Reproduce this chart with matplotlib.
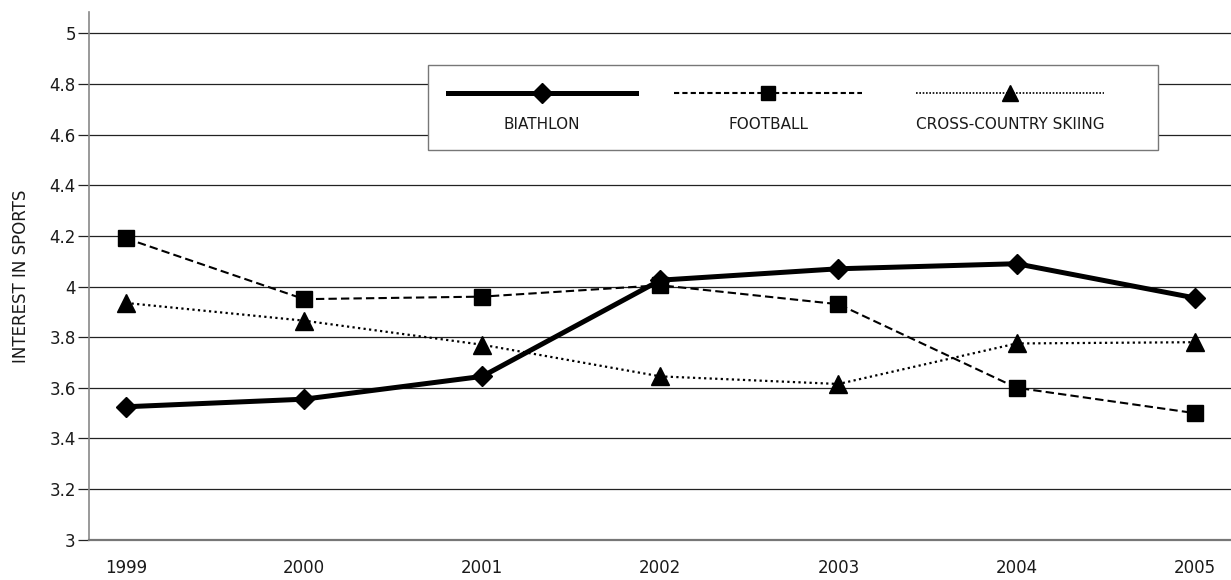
import numpy as np
import matplotlib
matplotlib.use("Agg")
from matplotlib import pyplot as plt
from matplotlib.lines import Line2D
from matplotlib.patches import Rectangle

# data
years = ["1999", "2000", "2001", "2002", "2003", "2004", "2005"]
biathlon = [3.525, 3.555, 3.645, 4.025, 4.07, 4.09, 3.955]
football = [4.19, 3.95, 3.96, 4.005, 3.93, 3.60, 3.50]
cross_country = [3.935, 3.865, 3.77, 3.645, 3.615, 3.775, 3.78]
series_names = ["BIATHLON", "FOOTBALL", "CROSS-COUNTRY SKIING"]
y_ticks = [3, 3.2, 3.4, 3.6, 3.8, 4, 4.2, 4.4, 4.6, 4.8, 5]

plt.rcParams['font.family'] = ['DejaVu Sans']

fig = plt.figure(figsize=(12.31, 5.80), dpi=100)
ax = fig.add_axes([0.0723, 0.0695, 0.9277, 0.9093])

xs = np.arange(len(years))

styles = [
    dict(color="black", lw=3.6, ls="-", marker="D", ms=10.5),
    dict(color="black", lw=1.5, ls=(0, (4, 2)), marker="s", ms=11),
    dict(color="black", lw=1.6, ls=(0, (1, 1.5)), marker="^", ms=13),
]

for vals, st in zip([biathlon, football, cross_country], styles):
    ax.plot(xs, vals, color=st["color"], lw=st["lw"], ls=st["ls"],
            marker=st["marker"], ms=st["ms"], mec="black", mfc="black",
            zorder=3)

ax.set_xlim(-0.208, 6.204)
ax.set_ylim(3, 5.083)
ax.set_xticks(xs)
ax.set_xticklabels(years)
ax.set_yticks(y_ticks)
ax.set_yticklabels([f"{v:g}" for v in y_ticks])
ax.tick_params(axis="x", length=0, pad=14, labelsize=12, labelcolor="#1a1a1a")
ax.tick_params(axis="y", length=8, width=0.9, color="#222222", pad=1.5,
               labelsize=12, labelcolor="#1a1a1a")

ax.grid(axis="y", color="#222222", lw=0.9, zorder=0)
ax.set_axisbelow(True)

for side in ["top", "right"]:
    ax.spines[side].set_visible(False)
ax.spines["left"].set_color("#888888")
ax.spines["left"].set_linewidth(1.2)
ax.spines["bottom"].set_color("#777777")
ax.spines["bottom"].set_linewidth(1.6)

ax.set_ylabel("INTEREST IN SPORTS", fontsize=12, color="#1a1a1a", labelpad=14)

# legend drawn by hand: sample line on top, label below
ax.add_patch(Rectangle((0.2968, 0.7389), 0.6393, 0.1612, transform=ax.transAxes,
                       facecolor="white", edgecolor="#777777", lw=1.0, zorder=5))
leg_styles = [
    dict(lw=3.6, ls="-", marker="D", ms=10.5),
    dict(lw=1.5, ls=(0, (2.5, 1.5)), marker="s", ms=10),
    dict(lw=1.2, ls=(0, (1, 1)), marker="^", ms=12),
]
centers = [0.3967, 0.5946, 0.8065]
half = 0.0823
for cx, name, st in zip(centers, series_names, leg_styles):
    ax.add_line(Line2D([cx - half, cx + half], [0.847, 0.847], transform=ax.transAxes,
                       color="black", lw=st["lw"], ls=st["ls"], zorder=6))
    ax.add_line(Line2D([cx], [0.847], transform=ax.transAxes, ls="none",
                       marker=st["marker"], ms=st["ms"], color="black", zorder=7))
    ax.text(cx, 0.788, name, transform=ax.transAxes, ha="center", va="center",
            fontsize=11, color="#1a1a1a", zorder=7)

plt.savefig("out.png", dpi=100)
